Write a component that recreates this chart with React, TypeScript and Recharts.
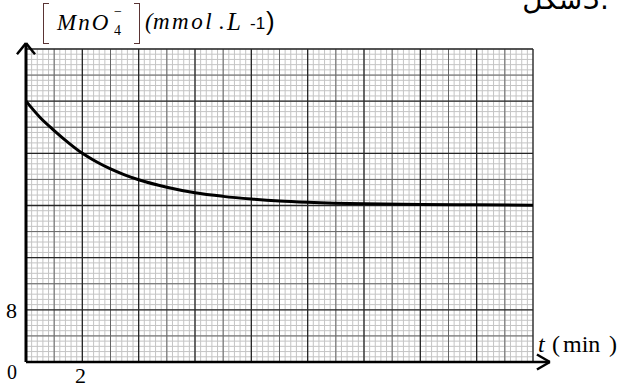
import React from 'react';
import { LineChart, Line, XAxis, YAxis, ReferenceLine } from 'recharts';

// time (min)
const times = [0, 0.5, 1, 1.5, 2, 2.5, 3, 3.5, 4, 5, 6, 7, 8, 9, 10, 12, 14, 16, 18];
// [MnO4-] (mmol/L)
const concentrations = [40, 37.5, 35.5, 33.65, 32.0, 30.7, 29.6, 28.7, 27.95, 26.8, 25.95, 25.4, 25.0, 24.7, 24.5, 24.25, 24.15, 24.1, 24.05];

const X_MAX = 18;
const Y_MAX = 48;
const xMajor = [0, 2, 4, 6, 8, 10, 12, 14, 16, 18];
const xMedium = [1, 3, 5, 7, 9, 11, 13, 15, 17];
const yMajor = [0, 8, 16, 24, 32, 40, 48];
const yMedium = [4, 12, 20, 28, 36, 44];
const xMinor: number[] = [];
for (let i = 0; i <= 90; i++) xMinor.push(+(i * 0.2).toFixed(2));
const yMinor: number[] = [];
for (let i = 0; i <= 60; i++) yMinor.push(+(i * 0.8).toFixed(2));

const data = times.map((t, i) => ({ t, c: concentrations[i] }));

const serif = '"Liberation Serif", "Times New Roman", serif';
const sans = '"Liberation Sans", Arial, sans-serif';

const abs = (left: number, top: number, extra: React.CSSProperties = {}): React.CSSProperties => ({
  position: 'absolute',
  left,
  top,
  lineHeight: 1,
  whiteSpace: 'nowrap',
  color: '#000',
  ...extra,
});

export default function App() {
  return (
    <div style={{ position: 'absolute', left: 0, top: 0, width: 619, height: 388, overflow: 'hidden', background: '#fff' }}>
      <LineChart width={619} height={388} data={data} margin={{ top: 49, right: 86, bottom: 26, left: 26 }}>
        <XAxis dataKey="t" type="number" domain={[0, X_MAX]} hide />
        <YAxis type="number" domain={[0, Y_MAX]} hide />
        {xMinor.map((v) => (
          <ReferenceLine key={'xm' + v} x={v} stroke="#c4c4c4" strokeWidth={1} />
        ))}
        {yMinor.map((v) => (
          <ReferenceLine key={'ym' + v} y={v} stroke="#c4c4c4" strokeWidth={1} />
        ))}
        {xMedium.map((v) => (
          <ReferenceLine key={'xd' + v} x={v} stroke="#666" strokeWidth={1} />
        ))}
        {yMedium.map((v) => (
          <ReferenceLine key={'yd' + v} y={v} stroke="#666" strokeWidth={1} />
        ))}
        {xMajor.map((v) => (
          <ReferenceLine key={'xM' + v} x={v} stroke="#262626" strokeWidth={1.3} />
        ))}
        {yMajor.map((v) => (
          <ReferenceLine key={'yM' + v} y={v} stroke="#262626" strokeWidth={1.3} />
        ))}
        {/* axes with arrows */}
        <ReferenceLine segment={[{ x: 0, y: 0 }, { x: 0, y: 48.9 }]} stroke="#000" strokeWidth={3} ifOverflow="visible" />
        <ReferenceLine segment={[{ x: -0.32, y: 47.2 }, { x: 0, y: 48.9 }]} stroke="#000" strokeWidth={2.5} ifOverflow="visible" />
        <ReferenceLine segment={[{ x: 0.32, y: 47.2 }, { x: 0, y: 48.9 }]} stroke="#000" strokeWidth={2.5} ifOverflow="visible" />
        <ReferenceLine segment={[{ x: 0, y: 0 }, { x: 18.6, y: 0 }]} stroke="#000" strokeWidth={2.5} ifOverflow="visible" />
        <ReferenceLine segment={[{ x: 18.14, y: 1.15 }, { x: 18.6, y: 0 }]} stroke="#000" strokeWidth={2.5} ifOverflow="visible" />
        <ReferenceLine segment={[{ x: 18.14, y: -1.15 }, { x: 18.6, y: 0 }]} stroke="#000" strokeWidth={2.5} ifOverflow="visible" />
        <Line
          type="monotone"
          dataKey="c"
          stroke="#000"
          strokeWidth={3}
          dot={false}
          activeDot={false}
          isAnimationActive={false}
        />
      </LineChart>

      {/* Arabic caption (cut at the top, as in the reference) */}
      <div style={abs(0, -14, { left: 'auto', right: 10, fontFamily: '"DejaVu Sans", sans-serif', fontSize: 28, direction: 'ltr' } as React.CSSProperties)}>
        {'شكل\u200E3.'}
      </div>

      {/* Y axis title */}
      <div style={{ position: 'absolute', left: 43, top: 3, width: 5, height: 39, borderLeft: '1.5px solid #5a3434', borderTop: '1.5px solid #5a3434', borderBottom: '1.5px solid #5a3434' }} />
      <div style={{ position: 'absolute', left: 134, top: 3, width: 5, height: 39, borderRight: '1.5px solid #5a3434', borderTop: '1.5px solid #5a3434', borderBottom: '1.5px solid #5a3434' }} />
      <div style={abs(57, 10.5, { fontFamily: serif, fontStyle: 'italic', fontSize: 23, letterSpacing: 2 })}>MnO</div>
      <div style={abs(114, 23.5, { fontFamily: serif, fontSize: 14 })}>4</div>
      <div style={abs(114, 5, { fontFamily: serif, fontSize: 14 })}>−</div>
      <div style={abs(145, 10.3, { fontFamily: serif, fontStyle: 'italic', fontSize: 23 })}>(</div>
      <div style={abs(153, 10.3, { fontFamily: serif, fontStyle: 'italic', fontSize: 23, letterSpacing: 2.5 })}>mmol</div>
      <div style={abs(219, 10.3, { fontFamily: serif, fontStyle: 'italic', fontSize: 23 })}>.</div>
      <div style={abs(227, 8.5, { fontFamily: serif, fontStyle: 'italic', fontSize: 25 })}>L</div>
      <div style={abs(250, 14.6, { fontFamily: sans, fontSize: 17 })}>-1</div>
      <div style={abs(266, 7.5, { fontFamily: sans, fontSize: 26 })}>)</div>

      {/* X axis title */}
      <div style={abs(538, 332, { fontFamily: serif, fontStyle: 'italic', fontSize: 24 })}>t</div>
      <div style={abs(552, 332, { fontFamily: serif, fontSize: 24 })}>(</div>
      <div style={abs(563, 332, { fontFamily: serif, fontSize: 24 })}>min</div>
      <div style={abs(609, 332, { fontFamily: serif, fontSize: 24 })}>)</div>

      {/* tick labels */}
      <div style={abs(7, 362, { fontFamily: serif, fontSize: 20 })}>0</div>
      <div style={abs(6, 300, { fontFamily: serif, fontSize: 22 })}>8</div>
      <div style={abs(75, 364.5, { fontFamily: serif, fontSize: 22 })}>2</div>
    </div>
  );
}
